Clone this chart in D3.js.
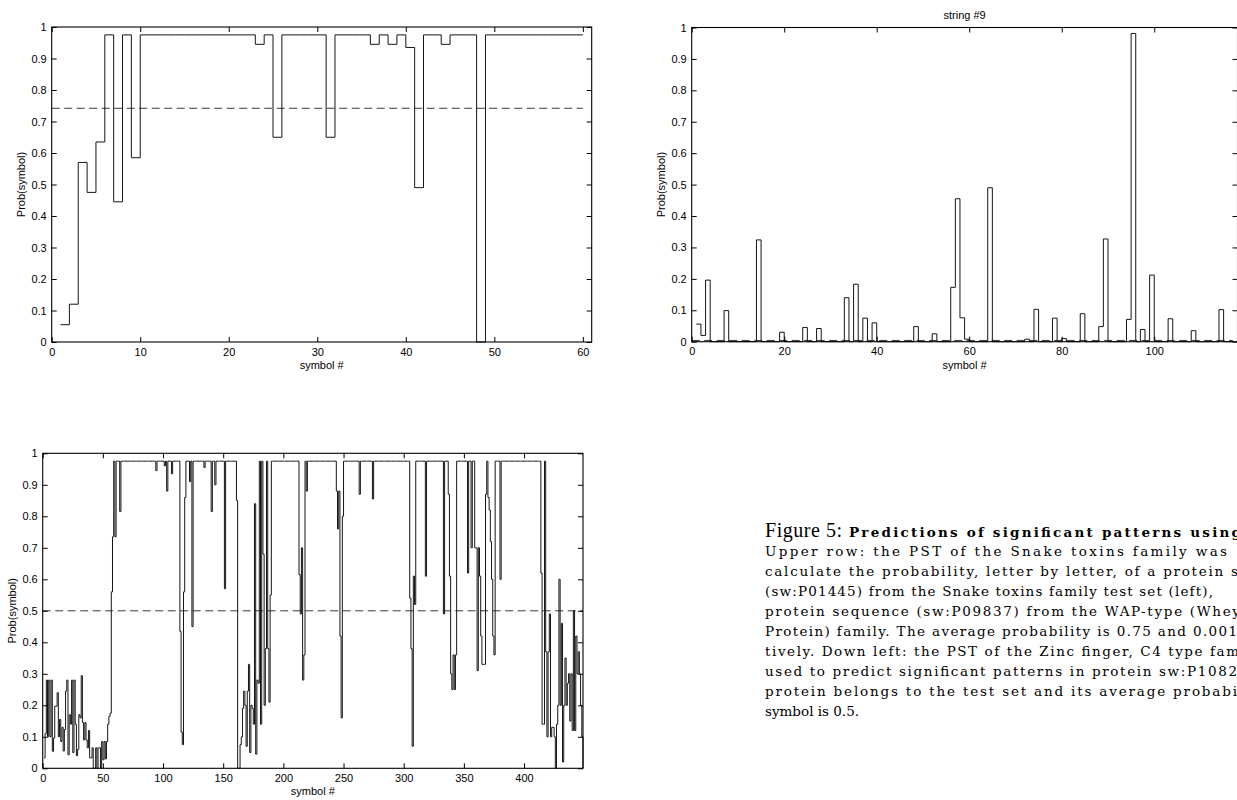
<!DOCTYPE html>
<html><head><meta charset="utf-8">
<script src="https://cdn.jsdelivr.net/npm/d3@7"></script>
<style>
body{margin:0;background:#fff;}
svg text{font-family:"Liberation Sans",Arial,sans-serif;}
</style>
</head><body><script>
// ---------------- data ----------------
const yTicks = [0,0.1,0.2,0.3,0.4,0.5,0.6,0.7,0.8,0.9,1];
const yTickLabels = ["0","0.1","0.2","0.3","0.4","0.5","0.6","0.7","0.8","0.9","1"];
const xLabel = "symbol #";
const yLabel = "Prob(symbol)";

// upper left: Snake toxins protein (sw:P01445), symbols 1..60
const topLeftProb = [
 0.055,0.12,0.57,0.475,0.635,0.975,0.445,0.975,0.585,0.975,
 0.975,0.975,0.975,0.975,0.975,0.975,0.975,0.975,0.975,0.975,
 0.975,0.975,0.945,0.975,0.65,0.975,0.975,0.975,0.975,0.975,
 0.65,0.975,0.975,0.975,0.975,0.945,0.975,0.945,0.975,0.935,
 0.49,0.975,0.975,0.945,0.975,0.975,0.975,0,0.975,0.975,
 0.975,0.975,0.975,0.975,0.975,0.975,0.975,0.975,0.975,0.975];
const topLeftMean = 0.742;
const topLeftXTicks = [0,10,20,30,40,50,60];

// upper right: WAP-type protein (sw:P09837), string #9, symbols 1..117
const topRightProb = [
 0.056,0.02,0.196,0,0,0,0.099,0,0,0,
 0,0,0,0.324,0,0,0,0,0.03,0,
 0,0,0,0.045,0,0,0.042,0,0,0,
 0,0,0.14,0,0.183,0,0.075,0,0.06,0,
 0,0,0,0,0,0,0,0.048,0,0,
 0,0.025,0,0,0,0.173,0.455,0.076,0.008,0,
 0,0,0,0.49,0,0,0,0,0,0,
 0,0.008,0,0.103,0,0,0,0.075,0,0.01,
 0,0,0,0.089,0,0,0,0.048,0.327,0,
 0,0,0,0.071,0.981,0,0.039,0,0.212,0,
 0,0,0.073,0,0,0,0,0.035,0,0,
 0,0,0,0.102,0,0,0];
const topRightMean = 0.004;
const topRightXTicks = [0,20,40,60,80,100];
const topRightTitle = "string #9";

// lower left: Zinc finger C4 type protein, symbols 1..449
const bottomProb = [
 0.033,0.11,0.28,0.1,0.28,0.1,0.28,0.054,0.096,0.197,
 0.197,0.24,0.1,0.155,0.085,0.13,0.055,0.123,0.245,0.28,
 0.043,0.17,0.14,0.28,0.05,0.28,0.14,0.04,0.06,0.17,
 0.16,0.294,0.145,0.09,0.145,0.09,0.065,0.12,0.033,0.033,
 0.065,0,0,0.065,0,0.065,0.065,0,0.085,0.027,
 0.085,0.03,0.085,0.14,0.165,0.175,0.56,0.735,0.975,0.735,
 0.975,0.975,0.975,0.815,0.975,0.975,0.975,0.975,0.975,0.975,
 0.975,0.975,0.975,0.975,0.975,0.975,0.975,0.975,0.975,0.975,
 0.975,0.975,0.975,0.975,0.975,0.975,0.975,0.975,0.975,0.975,
 0.975,0.975,0.975,0.945,0.975,0.975,0.975,0.975,0.975,0.975,
 0.96,0.975,0.88,0.975,0.975,0.975,0.935,0.975,0.975,0.975,
 0.975,0.975,0.975,0.435,0.115,0.075,0.56,0.86,0.975,0.975,
 0.975,0.91,0.975,0.45,0.975,0.975,0.975,0.975,0.975,0.975,
 0.975,0.975,0.975,0.955,0.975,0.975,0.975,0.975,0.975,0.815,
 0.975,0.975,0.9,0.975,0.975,0.975,0.975,0.975,0.975,0.975,
 0.57,0.975,0.975,0.975,0.975,0.975,0.975,0.975,0.975,0.975,
 0.85,0,0,0.075,0.1,0.19,0.245,0.2,0.07,0.245,
 0.33,0.05,0.2,0.19,0.14,0.84,0.045,0.28,0.27,0.975,
 0.14,0.975,0.68,0.2,0.38,0.975,0.38,0.21,0.55,0.975,
 0.975,0.975,0.975,0.975,0.975,0.975,0.975,0.975,0.975,0.975,
 0.975,0.975,0.975,0.975,0.975,0.975,0.975,0.975,0.975,0.975,
 0.975,0.975,0.615,0.49,0.7,0.28,0.36,0.975,0.88,0.975,
 0.975,0.975,0.975,0.975,0.975,0.975,0.975,0.975,0.975,0.975,
 0.975,0.975,0.975,0.975,0.975,0.975,0.975,0.975,0.975,0.975,
 0.975,0.975,0.975,0.88,0.76,0.88,0.42,0.16,0.8,0.975,
 0.975,0.975,0.975,0.975,0.975,0.975,0.975,0.975,0.975,0.975,
 0.975,0.975,0.87,0.975,0.975,0.975,0.975,0.975,0.975,0.975,
 0.975,0.975,0.975,0.855,0.975,0.975,0.975,0.975,0.975,0.975,
 0.975,0.975,0.975,0.975,0.975,0.975,0.975,0.975,0.975,0.975,
 0.975,0.975,0.975,0.975,0.975,0.975,0.975,0.975,0.975,0.975,
 0.975,0.975,0.975,0.975,0.54,0.38,0.07,0.61,0.52,0.975,
 0.975,0.975,0.975,0.975,0.975,0.975,0.975,0.61,0.975,0.975,
 0.975,0.975,0.975,0.975,0.975,0.975,0.975,0.975,0.975,0.975,
 0.975,0.975,0.49,0.975,0.975,0.975,0.87,0.61,0.3,0.25,
 0.36,0.25,0.36,0.975,0.975,0.975,0.975,0.975,0.975,0.975,
 0.975,0.975,0.62,0.975,0.975,0.7,0.975,0.975,0.7,0.7,
 0.31,0.7,0.61,0.42,0.33,0.33,0.33,0.87,0.975,0.86,
 0.82,0.72,0.6,0.42,0.36,0.975,0.975,0.975,0.975,0.6,
 0.975,0.975,0.975,0.975,0.975,0.975,0.975,0.975,0.975,0.975,
 0.975,0.975,0.975,0.975,0.975,0.975,0.975,0.975,0.975,0.975,
 0.975,0.975,0.975,0.975,0.975,0.975,0.975,0.975,0.975,0.975,
 0.975,0.975,0.975,0.62,0.14,0.14,0.975,0.37,0.1,0.37,
 0.49,0.1,0.13,0.13,0.1,0,0.14,0.2,0.6,0.2,
 0.46,0.02,0.2,0.35,0.2,0.27,0.3,0.15,0.3,0.12,
 0.5,0.12,0.42,0.3,0.37,0.3,0.2,0.1,0];
const bottomMean = 0.5;
const bottomXTicks = [0,50,100,150,200,250,300,350,400];

const captionFigure = "Figure 5:";
const captionBold = "Predictions of significant patterns using";
const captionLines = [
 "Upper row: the PST of the Snake toxins family was",
 "calculate the probability, letter by letter, of a protein s",
 "(sw:P01445) from the Snake toxins family test set (left),",
 "protein sequence (sw:P09837) from the WAP-type (Whey",
 "Protein) family. The average probability is 0.75 and 0.001",
 "tively. Down left: the PST of the Zinc finger, C4 type fam",
 "used to predict significant patterns in protein sw:P1082",
 "protein belongs to the test set and its average probabi",
 "symbol is 0.5."];
const captionEnds = [1227,1238,1213,1240,1237,1239,1237,1237,null];

// ---------------- drawing ----------------
const svg = d3.select("body").append("svg").attr("width",1237).attr("height",800);

function drawPanel(o){
  const g = svg.append("g");
  const x = d3.scaleLinear().domain(o.xDomain).range([o.left,o.right]);
  const y = d3.scaleLinear().domain([0,1]).range([o.bottom,o.top]);

  // mean (dashed)
  g.append("line")
    .attr("x1",x(o.meanFrom)).attr("x2",x(o.meanTo))
    .attr("y1",y(o.mean)).attr("y2",y(o.mean))
    .attr("stroke","#3a3a3a").attr("stroke-width",1)
    .attr("stroke-dasharray","8,4.5");

  // stairs
  const line = d3.line().x(d=>x(d[0])).y(d=>y(d[1])).curve(d3.curveStepAfter);
  g.append("path").datum(o.data.map((v,i)=>[i+1,v]))
    .attr("d",line).attr("fill","none")
    .attr("stroke","#151515").attr("stroke-width",1);

  // axes with inward ticks
  const fmtY = d => yTickLabels[yTicks.indexOf(d)];
  const axB = g.append("g").attr("transform",`translate(0,${o.bottom})`)
    .call(d3.axisBottom(x).tickValues(o.xTicks).tickFormat(d3.format("d"))
      .tickSizeInner(-5).tickSizeOuter(0).tickPadding(6));
  const axT = g.append("g").attr("transform",`translate(0,${o.top})`)
    .call(d3.axisTop(x).tickValues(o.xTicks).tickFormat("")
      .tickSizeInner(-5).tickSizeOuter(0));
  const axL = g.append("g").attr("transform",`translate(${o.left},0)`)
    .call(d3.axisLeft(y).tickValues(yTicks).tickFormat(fmtY)
      .tickSizeInner(-5).tickSizeOuter(0).tickPadding(5));
  const axR = g.append("g").attr("transform",`translate(${o.right},0)`)
    .call(d3.axisRight(y).tickValues(yTicks).tickFormat("")
      .tickSizeInner(-5).tickSizeOuter(0));
  [axB,axT,axL,axR].forEach(a=>{
    a.select(".domain").remove();
    a.selectAll("line").attr("stroke","#000");
    a.selectAll("text").attr("font-family","Liberation Sans, Arial, sans-serif")
      .attr("font-size",11).attr("fill","#000");
    a.attr("font-family",null).attr("font-size",null);
  });
  // box
  g.append("rect").attr("x",o.left).attr("y",o.top)
    .attr("width",o.right-o.left).attr("height",o.bottom-o.top)
    .attr("fill","none").attr("stroke","#000").attr("stroke-width",1.1);

  // labels
  g.append("text").attr("x",(o.left+o.right)/2).attr("y",o.bottom+27)
    .attr("text-anchor","middle").attr("font-size",11).text(xLabel);
  g.append("text")
    .attr("transform",`translate(${o.left-27},${(o.top+o.bottom)/2}) rotate(-90)`)
    .attr("text-anchor","middle").attr("font-size",11).text(yLabel);
  if(o.title){
    g.append("text").attr("x",(o.left+o.right)/2).attr("y",o.top-9)
      .attr("text-anchor","middle").attr("font-size",11).text(o.title);
  }
}

drawPanel({left:51.7,right:591.7,top:27,bottom:342,xDomain:[0,61],xTicks:topLeftXTicks,
  data:topLeftProb,mean:topLeftMean,meanFrom:0,meanTo:60});
drawPanel({left:691.7,right:1237.5,top:27.5,bottom:341.7,xDomain:[0,118],xTicks:topRightXTicks,
  data:topRightProb,mean:topRightMean,meanFrom:0,meanTo:117,title:topRightTitle});
drawPanel({left:42.7,right:583,top:453.3,bottom:768.3,xDomain:[0,449],xTicks:bottomXTicks,
  data:bottomProb,mean:bottomMean,meanFrom:0,meanTo:449});

// caption
const cap = svg.append("g").attr("fill","#000");
cap.append("text").attr("x",765).attr("y",537).attr("font-size",20)
  .style("font-family","Liberation Serif, serif")
  .attr("textLength",77).attr("lengthAdjust","spacing").text(captionFigure);
cap.append("text").attr("x",849).attr("y",537).attr("font-size",13.5).attr("font-weight","bold")
  .style("font-family","DejaVu Serif, serif")
  .attr("textLength",1241-849).attr("lengthAdjust","spacing").text(captionBold);
captionLines.forEach((t,i)=>{
  const tx = cap.append("text").attr("x",765).attr("y",556+20*i).attr("font-size",13.5)
    .style("font-family","DejaVu Serif, serif").text(t);
  if(captionEnds[i]) tx.attr("textLength",captionEnds[i]-765).attr("lengthAdjust","spacing");
});
</script></body></html>
